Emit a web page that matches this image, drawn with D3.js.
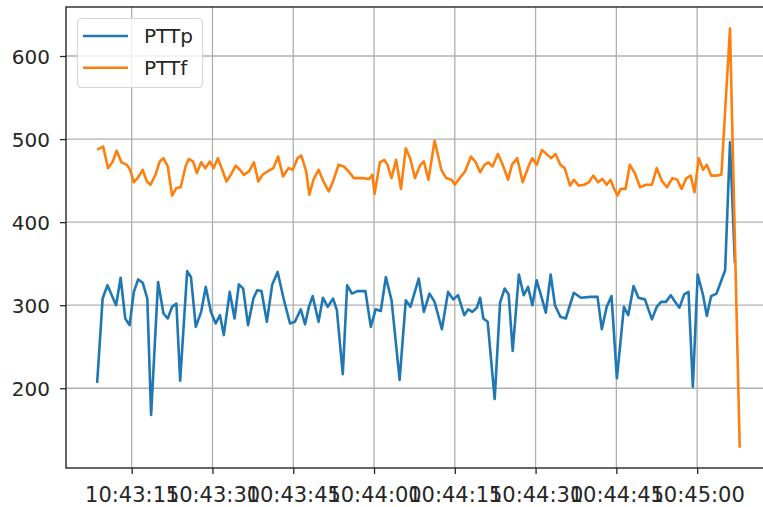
<!DOCTYPE html>
<html>
<head>
<meta charset="utf-8">
<script src="https://cdn.jsdelivr.net/npm/d3@7"></script>
<style>
  html, body { margin: 0; padding: 0; background: #fff; }
  svg { display: block; }
  text { font-family: "DejaVu Sans", sans-serif; fill: #262626; }
</style>
</head>
<body>
<script>
// Sample times, in seconds after 10:43:00, and readings for each series
const pttpSeconds = [
  8.6, 9.6, 10.5, 12.1, 12.95, 13.8, 14.6, 15.4, 16.2, 17.05,
  17.9, 18.6, 19.9, 20.9, 21.7, 22.5, 23.3, 24.0, 25.3, 26.0,
  26.9, 27.9, 28.75, 29.7, 30.6, 31.4, 32.1, 33.2, 34.1, 34.9,
  35.7, 36.6, 37.6, 38.3, 39.1, 40.1, 41.1, 42.1, 43.2, 44.4,
  45.3, 46.4, 47.2, 47.9, 48.6, 49.7, 50.5, 51.4, 52.4, 53.1,
  54.2, 55.0, 55.9, 56.9, 58.4, 59.4, 60.3, 61.25, 62.2, 63.25,
  64.75, 65.9, 66.75, 68.3, 69.25, 70.3, 71.25, 72.6, 73.75, 74.7,
  75.6, 76.75, 77.5, 78.25, 79.1, 79.7, 80.3, 81.1, 82.4, 83.4,
  84.25, 85.0, 85.75, 86.9, 87.8, 88.6, 89.4, 90.2, 91.0, 91.9,
  92.8, 93.6, 94.6, 95.6, 97.1, 98.4, 100.2, 101.5, 102.3, 103.2,
  104.1, 105.1, 106.4, 107.2, 108.2, 109.1, 110.3, 111.6, 112.5, 113.3,
  114.2, 115.1, 115.8, 116.7, 117.6, 118.4, 119.2, 120.1, 121.1, 121.8,
  122.6, 123.6, 125.2, 126.1, 127.0
];
const pttpValues = [
  208, 308, 324, 300, 333, 284, 276, 316, 331, 327,
  308, 168, 328, 290, 284, 298, 302, 209, 341, 334,
  274, 292, 322, 292, 278, 288, 264, 316, 284, 325,
  320, 276, 308, 318, 317, 280, 325, 340, 308, 278,
  280, 295, 277, 298, 311, 280, 309, 298, 308, 294,
  217, 324, 314, 317, 317, 274, 295, 293, 334, 306,
  210, 306, 298, 332, 292, 314, 304, 271, 316, 307,
  312, 288, 295, 292, 297, 309, 284, 280, 187, 303,
  320, 313, 245, 337, 312, 322, 300, 330, 312, 291,
  337, 300, 286, 284, 315, 309, 310, 310, 271, 298,
  311, 212, 298, 288, 323, 309, 307, 283, 298, 304,
  304, 312, 305, 297, 313, 316, 202, 337, 312, 287,
  311, 314, 342, 496, 352
];

const pttfSeconds = [
  8.8, 9.7, 10.6, 11.5, 12.2, 13.1, 14.1, 14.7, 15.4, 16.2,
  17.05, 17.8, 18.5, 19.4, 20.2, 20.9, 21.7, 22.5, 23.3, 24.1,
  25.0, 25.6, 26.4, 27.1, 27.9, 28.7, 29.5, 30.2, 31.0, 31.8,
  32.6, 33.4, 34.3, 35.1, 35.8, 36.8, 37.7, 38.5, 39.3, 40.2,
  41.3, 42.2, 43.1, 44.1, 44.9, 45.8, 46.5, 47.4, 48.0, 48.75,
  49.7, 50.6, 51.6, 52.5, 53.4, 54.4, 55.3, 56.25, 57.8, 59.1,
  59.7, 60.1, 61.1, 61.9, 62.5, 63.25, 64.1, 65.0, 65.9, 66.75,
  67.6, 68.6, 69.25, 70.1, 71.25, 72.5, 73.4, 74.4, 75.0, 75.9,
  76.9, 78.0, 78.9, 79.7, 80.5, 81.25, 82.0, 83.0, 83.9, 84.9,
  85.6, 86.6, 87.6, 88.8, 89.4, 90.2, 91.2, 92.2, 92.9, 93.7,
  94.6, 95.4, 96.4, 97.1, 98.0, 99.0, 99.9, 100.7, 101.6, 102.4,
  103.2, 103.9, 104.6, 105.2, 105.8, 106.7, 107.5, 108.5, 109.4, 110.5,
  111.6, 112.5, 113.5, 114.4, 115.4, 116.3, 117.1, 118.0, 118.8, 119.5,
  120.3, 121.1, 121.8, 122.6, 123.6, 124.5, 126.1, 127.0, 127.9
];
const pttfValues = [
  488, 491, 465, 473, 486, 472, 469, 463, 448, 454,
  463, 449, 445, 457, 473, 477, 467, 432, 441, 442,
  467, 476, 473, 459, 472, 465, 473, 465, 477, 463,
  449, 457, 468, 463, 457, 461, 472, 449, 457, 461,
  465, 479, 455, 465, 463, 477, 480, 461, 433, 451,
  463, 449, 437, 451, 469, 467, 461, 453, 453, 452,
  457, 434, 472, 475, 469, 453, 475, 440, 489, 476,
  453, 469, 473, 451, 498, 463, 453, 451, 445, 453,
  461, 479, 472, 460, 469, 472, 467, 482, 469, 451,
  469, 477, 448, 469, 477, 469, 487, 481, 477, 482,
  469, 465, 444, 451, 444, 445, 448, 456, 448, 452,
  445, 451, 440, 432, 440, 440, 469, 458, 442, 445,
  445, 465, 449, 442, 453, 451, 440, 453, 456, 436,
  477, 463, 469, 456, 456, 457, 633, 380, 130
];

const seriesNames = ["PTTp", "PTTf"];
const seriesColors = ["#1f77b4", "#ff7f0e"];

const xTickSeconds = [15, 30, 45, 60, 75, 90, 105, 120];
const xTickLabels = ["10:43:15", "10:43:30", "10:43:45", "10:44:00",
                     "10:44:15", "10:44:30", "10:44:45", "10:45:00"];
const yTicks = [200, 300, 400, 500, 600];

// Chart geometry
const W = 763, H = 507;
const plot = { left: 66, right: 772, top: 7, bottom: 468 };

const base = new Date(2020, 0, 1, 10, 43, 0);
const toDate = s => new Date(base.getTime() + s * 1000);

const x = d3.scaleTime()
  .domain([toDate(2.8), toDate(133.9)])
  .range([plot.left, plot.right]);
const y = d3.scaleLinear()
  .domain([104, 659])
  .range([plot.bottom, plot.top]);

const svg = d3.select("body").append("svg")
  .attr("width", W).attr("height", H)
  .attr("viewBox", `0 0 ${W} ${H}`);

const clipId = "plot-clip";
svg.append("defs").append("clipPath").attr("id", clipId)
  .append("rect")
  .attr("x", plot.left).attr("y", plot.top)
  .attr("width", plot.right - plot.left)
  .attr("height", plot.bottom - plot.top);

// Grid lines
const grid = svg.append("g").attr("stroke", "#b0b0b0").attr("stroke-width", 1.3);
grid.selectAll("line.vx").data(xTickSeconds).join("line")
  .attr("x1", d => x(toDate(d))).attr("x2", d => x(toDate(d)))
  .attr("y1", plot.top).attr("y2", plot.bottom);
grid.selectAll("line.hy").data(yTicks).join("line")
  .attr("x1", plot.left).attr("x2", plot.right)
  .attr("y1", d => y(d)).attr("y2", d => y(d));

// Series lines
const line = d3.line()
  .x(d => x(toDate(d[0])))
  .y(d => y(d[1]));

const series = [
  d3.zip(pttpSeconds, pttpValues),
  d3.zip(pttfSeconds, pttfValues)
];

svg.append("g").attr("clip-path", `url(#${clipId})`)
  .selectAll("path").data(series).join("path")
  .attr("d", line)
  .attr("fill", "none")
  .attr("stroke", (d, i) => seriesColors[i])
  .attr("stroke-width", 2.6)
  .attr("stroke-linejoin", "round")
  .attr("stroke-linecap", "square");

// Axes
const xAxis = d3.axisBottom(x)
  .tickValues(xTickSeconds.map(toDate))
  .tickFormat((d, i) => xTickLabels[i])
  .tickSize(6).tickPadding(13);
const yAxis = d3.axisLeft(y)
  .tickValues(yTicks)
  .tickFormat(d3.format("d"))
  .tickSize(6).tickPadding(10);

const gx = svg.append("g").attr("transform", `translate(0,${plot.bottom})`).call(xAxis);
const gy = svg.append("g").attr("transform", `translate(${plot.left},0)`).call(yAxis);
[gx, gy].forEach(g => {
  g.select(".domain").remove();
  g.selectAll(".tick line").attr("stroke", "#262626").attr("stroke-width", 1.3);
  g.selectAll(".tick text")
    .attr("font-family", "DejaVu Sans, sans-serif")
    .attr("fill", "#262626");
});
gx.selectAll(".tick text").attr("font-size", 21);
gy.selectAll(".tick text").attr("font-size", 20).attr("dy", "0.36em");

// Frame
svg.append("rect")
  .attr("x", plot.left).attr("y", plot.top)
  .attr("width", plot.right - plot.left)
  .attr("height", plot.bottom - plot.top)
  .attr("fill", "none")
  .attr("stroke", "#262626")
  .attr("stroke-width", 1.4);

// Legend
const legend = svg.append("g");
legend.append("rect")
  .attr("x", 77.5).attr("y", 18.5)
  .attr("width", 125).attr("height", 69)
  .attr("rx", 4)
  .attr("fill", "#fff").attr("fill-opacity", 0.8)
  .attr("stroke", "#d6d6d6").attr("stroke-width", 1.2);
const items = legend.selectAll("g.item").data(seriesNames).join("g")
  .attr("transform", (d, i) => `translate(0,${36 + i * 31.7})`);
items.append("line")
  .attr("x1", 83).attr("x2", 128)
  .attr("stroke", (d, i) => seriesColors[i])
  .attr("stroke-width", 2.6);
items.append("text")
  .attr("x", 144)
  .attr("dy", "0.36em")
  .attr("font-size", 20)
  .text(d => d);
</script>
</body>
</html>
